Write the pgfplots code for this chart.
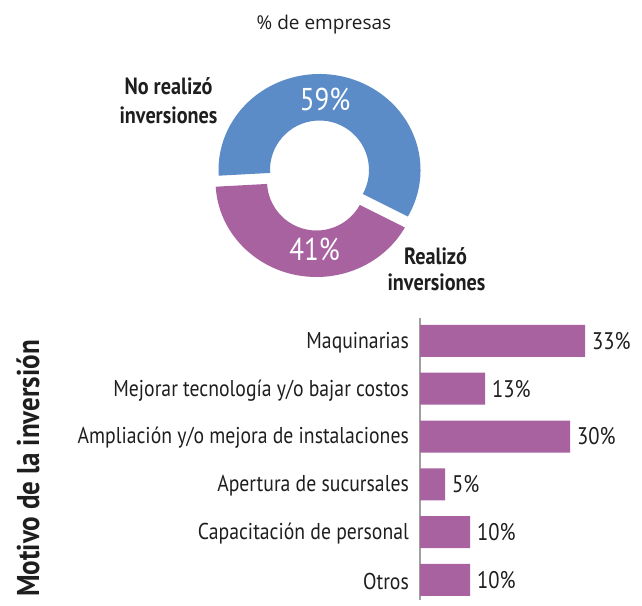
\documentclass[border=0pt]{standalone}
\usepackage{fontspec}
\setmainfont{PT Sans}
\newfontfamily\cond[FakeStretch=0.86]{PT Sans}
\newfontfamily\titlefont{Open Sans}
\usepackage{pgfplots}
\pgfplotsset{compat=1.18}
\definecolor{cblue}{HTML}{5B8CC8}
\definecolor{cpurp}{HTML}{A862A0}
\definecolor{axgray}{HTML}{A0A0A0}
\definecolor{txt}{HTML}{1E1E1E}

% donut data
\def\vNo{59}
\def\vSi{41}
\pgfmathsetmacro{\aS}{-29}
\pgfmathsetmacro{\aM}{\aS+3.6*\vNo}
\pgfmathsetmacro{\aE}{\aM+3.6*\vSi}

\begin{document}
\begin{tikzpicture}[x=1pt,y=1pt]
\path[use as bounding box] (0pt,0pt) rectangle (642pt,605pt);

% ---------- donut (overlay axis in pixel units) ----------
\begin{axis}[at={(0pt,0pt)}, anchor=south west, width=642pt, height=605pt,
  scale only axis, xmin=0, xmax=642, ymin=0, ymax=605, y dir=reverse,
  hide axis, clip=false]
  \fill[cblue] (axis cs:319.5,170) ++(\aS:101pt and 96pt)
     arc[start angle=\aS, end angle=\aM, x radius=101pt, y radius=96pt]
     -- ++(\aM+180:51.5pt and 46.5pt)
     arc[start angle=\aM, end angle=\aS, x radius=49.5pt, y radius=49.5pt] -- cycle;
  \fill[cpurp] (axis cs:316.5,181) ++(\aM:101pt and 96pt)
     arc[start angle=\aM, end angle=\aE, x radius=101pt, y radius=96pt]
     -- ++(\aE+180:51.5pt and 46.5pt)
     arc[start angle=\aE, end angle=\aM, x radius=49.5pt, y radius=49.5pt] -- cycle;

  \node[anchor=base, white, inner sep=0pt, font=\cond\fontsize{31.5}{32}\selectfont] at (axis cs:325,110) {\vNo\%};
  \node[anchor=base, white, inner sep=0pt, font=\cond\fontsize{31.5}{32}\selectfont] at (axis cs:314.5,260) {\vSi\%};

  \node[anchor=base, txt, inner sep=0pt, font=\cond\bfseries\fontsize{23.5}{24}\selectfont] at (axis cs:168.5,94) {No realizó};
  \node[anchor=base, txt, inner sep=0pt, font=\cond\bfseries\fontsize{23.5}{24}\selectfont] at (axis cs:168.5,123) {inversiones};
  \node[anchor=base, txt, inner sep=0pt, font=\cond\bfseries\fontsize{23.5}{24}\selectfont] at (axis cs:435.5,264) {Realizó};
  \node[anchor=base, txt, inner sep=0pt, font=\cond\bfseries\fontsize{23.5}{24}\selectfont] at (axis cs:436.5,290) {inversiones};

  \node[anchor=base, txt, inner sep=0pt, font=\titlefont\fontsize{19}{20}\selectfont] at (axis cs:324,29.3) {\% de empresas};

  \node[rotate=90, anchor=base, txt, inner sep=0pt, font=\cond\bfseries\fontsize{31.5}{32}\selectfont] at (axis cs:39,468.5) {Motivo de la inversión};
\end{axis}

% ---------- bar chart ----------
\begin{axis}[at={(420pt,5pt)}, anchor=south west, width=220pt, height=282pt,
  scale only axis, xbar, xmin=0, xmax=44, ymin=-0.48, ymax=5.42, y dir=reverse,
  axis x line=none, axis y line*=left,
  y axis line style={axgray, line width=1.2pt, -},
  ytick={0,1,2,3,4,5},
  yticklabels={Maquinarias, Mejorar tecnología y/o bajar costos, Ampliación y/o mejora de instalaciones, Apertura de sucursales, Capacitación de personal, Otros},
  major tick length=0pt,
  yticklabel style={font=\cond\fontsize{22.9}{24}\selectfont, text=txt, inner sep=0pt, xshift=-11pt, yshift=-1.5pt},
  bar width=32pt, clip=false,
  point meta=x,
  /pgf/number format/assume math mode=true,
  nodes near coords={\pgfmathprintnumber{\pgfplotspointmeta}\%},
  every node near coord/.append style={font=\cond\fontsize{24}{25}\selectfont, text=txt, anchor=west, inner sep=0pt, xshift=7pt},
  ]
  \addplot[fill=cpurp, draw=none] coordinates {(33,0) (13,1) (30,2) (5,3) (10,4) (10,5)};
\end{axis}
\end{tikzpicture}
\end{document}
